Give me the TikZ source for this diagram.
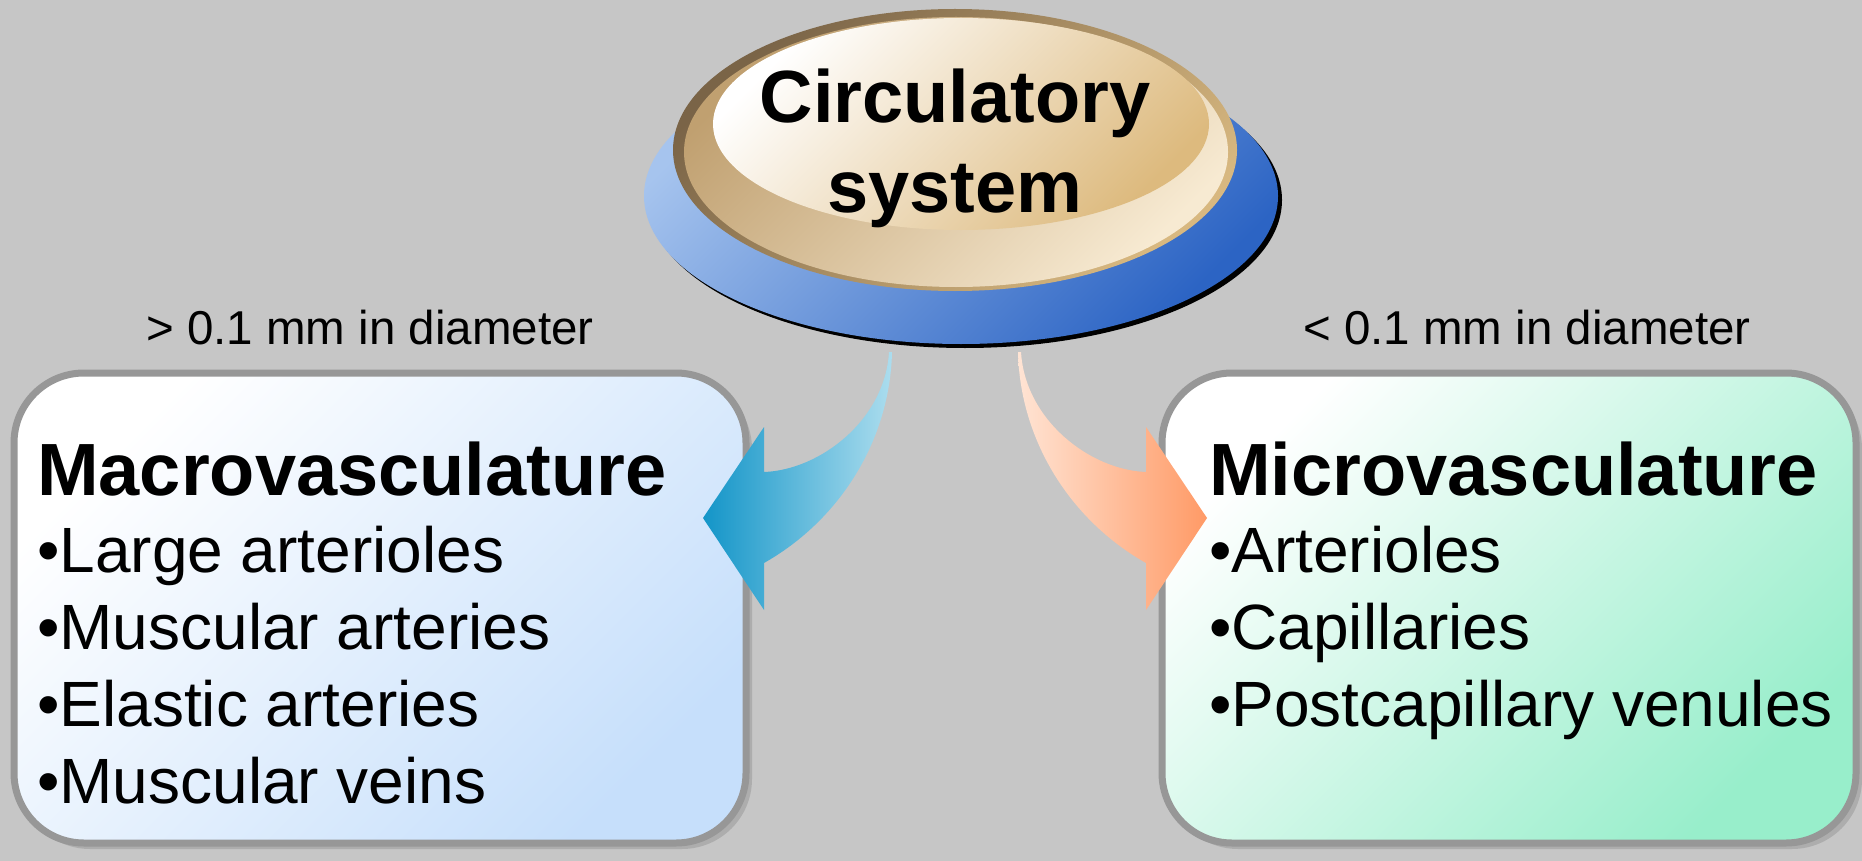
\documentclass[tikz,border=0pt]{standalone}
\usepackage{fontspec}
\setmainfont{Liberation Sans}
\usepackage{xcolor,tikz}
\usetikzlibrary{shadows}

\definecolor{bggray}{HTML}{C6C6C6}
\definecolor{boxgray}{HTML}{979797}
\definecolor{macrofill}{HTML}{C6DFFB}
\definecolor{microfill}{HTML}{98EECB}
\definecolor{baselight}{HTML}{A6C4EE}
\definecolor{basedark}{HTML}{2C64C4}
\definecolor{rimdark}{HTML}{7A6447}
\definecolor{rimlight}{HTML}{D8B880}
\definecolor{ringdark}{HTML}{C0A070}
\definecolor{ringlight}{HTML}{F7EAD2}
\definecolor{facedark}{HTML}{DDBA7E}
\definecolor{bluehead}{HTML}{1395C8}
\definecolor{bluetail}{HTML}{ACDDEE}
\definecolor{orangetail}{HTML}{FFE4D4}
\definecolor{orangehead}{HTML}{FF9A66}

\begin{document}
\begin{tikzpicture}[x=1pt,y=-1pt,
    headfont/.style={font=\fontsize{74}{89}\selectfont\bfseries},
    itemfont/.style={font=\fontsize{64}{77}\selectfont},
    notefont/.style={font=\fontsize{47.5}{57}\selectfont},
    groupbox/.style={draw=boxgray, line width=7pt, rounded corners=70pt,
        minimum height=470pt, inner sep=0pt,
        drop shadow={shadow xshift=6pt, shadow yshift=-6pt, fill=black, opacity=.12}},
    item/.style={itemfont, anchor=base west, inner sep=0pt}]
    \useasboundingbox (0,0) rectangle (1862,861);
    \fill[bggray] (0,0) rectangle (1862,861);

    % circulatory system button
    \fill[black] (965,200) ellipse [x radius=317, y radius=148];
    \shade[top color=baselight, bottom color=basedark, shading angle=45]
        (961,196) ellipse [x radius=317, y radius=148];
    \shade[top color=rimdark, bottom color=rimlight, shading angle=45]
        (955,150) ellipse [x radius=282, y radius=141];
    \shade[top color=ringdark, bottom color=ringlight, shading angle=45]
        (956,152) ellipse [x radius=272, y radius=135];
    \shade[top color=white, bottom color=facedark, shading angle=45]
        (961,124) ellipse [x radius=248, y radius=106];
    \node[headfont, anchor=base, inner sep=0pt] (circ) at (955,123) {Circulatory};
    \node[headfont, anchor=base, inner sep=0pt] (circb) at (955,212) {system};

    % the two groups
    \node[groupbox, minimum width=732pt, top color=white, bottom color=macrofill,
        shading angle=45] (macro) at (380,608) {};
    \node[groupbox, minimum width=694pt, top color=white, bottom color=microfill,
        shading angle=45] (micro) at (1509,608) {};

    % arrows
    \shade[left color=bluehead, right color=bluetail]
        (892,352) .. controls (890,440) and (840,520) .. (764,563)
        -- (764,610) -- (703,518) -- (764,427) -- (764,472)
        .. controls (820,470) and (885,420) .. (889,352) -- cycle;
    \shade[left color=orangetail, right color=orangehead]
        (1018,352) .. controls (1020,440) and (1070,520) .. (1146,563)
        -- (1146,610) -- (1207,518) -- (1146,427) -- (1146,472)
        .. controls (1090,470) and (1025,420) .. (1021,352) -- cycle;

    \node[notefont, anchor=base] (macronote) at (370,344) {> 0.1 mm in diameter};
    \node[notefont, anchor=base] (micronote) at (1527,344) {< 0.1 mm in diameter};

    % lists
    \node[headfont, anchor=base west, inner sep=0pt] (macrohead) at (37,495) {Macrovasculature};
    \def\macrolist{Large arterioles,Muscular arteries,Elastic arteries,Muscular veins}
    \foreach[count=\i] \t in \macrolist{
        \node[item] (macro\i) at (37,495+77*\i) {\textbullet\t};
    }
    \node[headfont, anchor=base west, inner sep=0pt] (microhead) at (1209,495) {Microvasculature};
    \def\microlist{Arterioles,Capillaries,Postcapillary venules}
    \foreach[count=\i] \t in \microlist{
        \node[item] (micro\i) at (1209,495+77*\i) {\textbullet\t};
    }
\end{tikzpicture}
\end{document}
